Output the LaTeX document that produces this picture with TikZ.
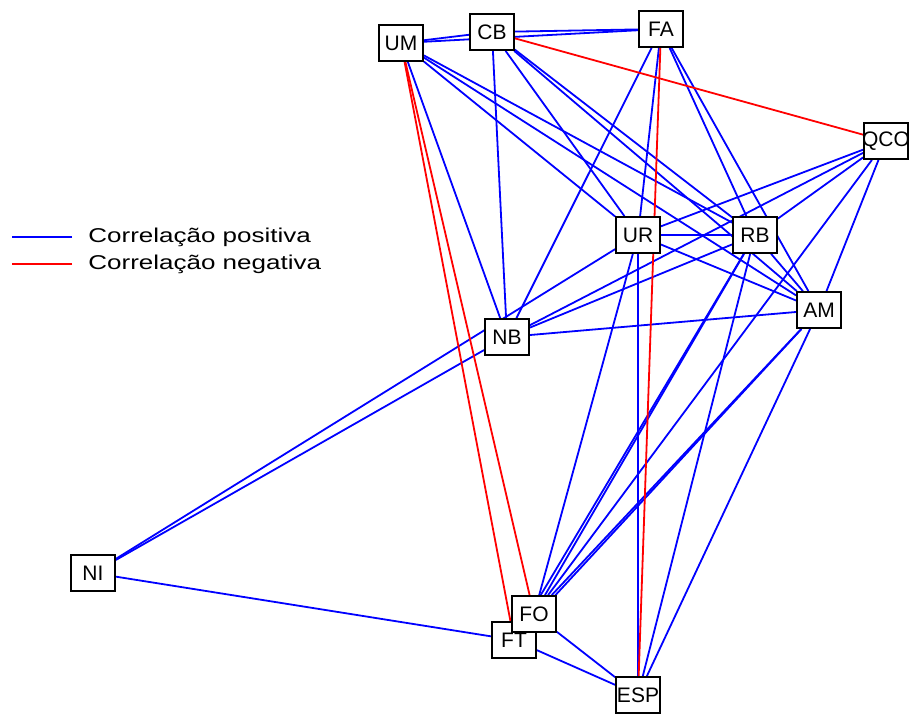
\documentclass[tikz,border=0pt]{standalone}
\usepackage{fontspec}
\setmainfont{Liberation Sans}
\newfontfamily\legfont[FakeStretch=1.3]{Liberation Sans}
\usetikzlibrary{backgrounds}
\tikzset{var/.style={draw=black,fill=white,line width=.9pt,minimum width=22pt,minimum height=18pt,inner sep=1pt,font=\fontsize{10.5}{12}\selectfont},wide/.style={inner xsep=-1.5pt},poslink/.style={draw=blue,line width=.9pt},neglink/.style={draw=red,line width=.9pt},legend/.style={font=\legfont\fontsize{10}{12}\selectfont,inner sep=0pt,anchor=west}}

\begin{document}
\begin{tikzpicture}[x=.5pt,y=-.5pt]
\useasboundingbox (0,0) rectangle (911,713);
\node[var] (UM) at (401,43) {UM};
\node[var] (CB) at (492,32) {CB};
\node[var] (FA) at (661,29) {FA};
\node[var,wide] (QCO) at (886,141) {QCO};
\node[var] (UR) at (638,235) {UR};
\node[var] (RB) at (755,235) {RB};
\node[var] (AM) at (819,310) {AM};
\node[var] (NB) at (507,337) {NB};
\node[var] (NI) at (93,573) {NI};
\node[var] (FT) at (514,640) {FT};
\node[var] (FO) at (534,614) {FO};
\node[var,wide] (ESP) at (638,695) {ESP};
\node[legend] (lpos) at (88,237) {Correlação positiva};
\node[legend] (lneg) at (88,264) {Correlação negativa};
\draw[poslink] ([xshift=-8pt]lpos.west) -- ++(-30pt,0);
\draw[neglink] ([xshift=-8pt]lneg.west) -- ++(-30pt,0);
\begin{scope}[on background layer]
\draw[poslink] (UM)--(CB);\draw[poslink] (CB)--(FA);\draw[poslink] (UM)--(FA);
\draw[poslink] (UM)--(NB);\draw[poslink] (UM)--(UR);\draw[poslink] (UM)--(RB);\draw[poslink] (UM)--(AM);
\draw[poslink] (CB)--(NB);\draw[poslink] (CB)--(UR);\draw[poslink] (CB)--(RB);\draw[poslink] (CB)--(AM);
\draw[poslink] (FA)--(NB);\draw[poslink] (FA)--(UR);\draw[poslink] (FA)--(RB);\draw[poslink] (FA)--(AM);
\draw[poslink] (QCO)--(UR);\draw[poslink] (QCO)--(RB);\draw[poslink] (QCO)--(NB);\draw[poslink] (QCO)--(AM);\draw[poslink] (QCO)--(FO);
\draw[poslink] (UR)--(RB);\draw[poslink] (UR)--(AM);\draw[poslink] (UR)--(FO);\draw[poslink] (UR)--(ESP);
\draw[poslink] (RB)--(AM);\draw[poslink] (RB)--(NB);\draw[poslink] (RB)--(ESP);
\draw[poslink] (AM)--(NB);\draw[poslink] (AM)--(ESP);
\draw[poslink] (NI)--(NB);\draw[poslink] (NI)--(UR);\draw[poslink] (NI)--(FT);
\draw[poslink] (FO)--(RB);\draw[poslink] (FO)--(AM);\draw[poslink] (FT)--(RB);\draw[poslink] (FT)--(AM);
\draw[poslink] (FO)--(ESP);\draw[poslink] (FT)--(ESP);
\draw[neglink] (CB)--(QCO);\draw[neglink] (FA)--(ESP);\draw[neglink] (UM)--(FO);\draw[neglink] (UM)--(FT);
\end{scope}
\end{tikzpicture}
\end{document}
